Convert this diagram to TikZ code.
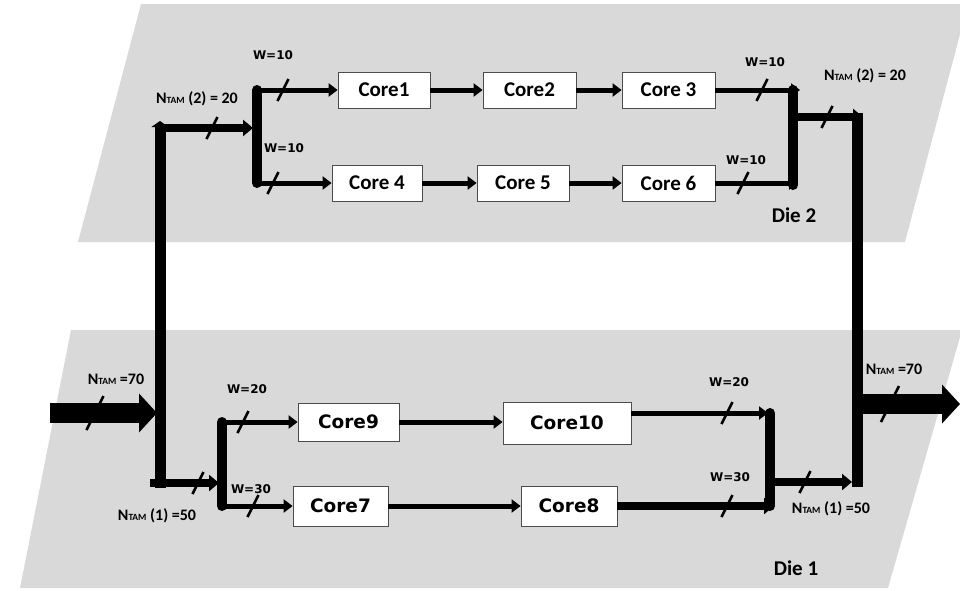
\documentclass[tikz,border=0pt]{standalone}
\usepackage{fontspec}
\setmainfont{Carlito}
\newfontfamily\verd{DejaVu Sans}
\usetikzlibrary{arrows.meta}
\definecolor{diegray}{RGB}{217,217,217}
\newcommand{\ntam}{N{\fontsize{9.5}{10}\selectfont TAM}}

\begin{document}
\begin{tikzpicture}[x=1pt,y=-1pt,
    core/.style={draw=black!70,fill=white,line width=0.8pt,inner sep=0pt,
      minimum height=36pt,font=\fontsize{21}{24}\selectfont\bfseries},
    corev/.style={core,font=\verd\bfseries\fontsize{18.5}{22}\selectfont},
    wire/.style={line width=5pt,-{Triangle[length=9pt,width=13pt]}},
    fat/.style={line width=8pt,-{Triangle[length=10pt,width=16pt]}},
    bar/.style={line width=10pt,line cap=round},
    bus/.style={line width=11pt},
    big/.style={line width=20pt,-{Triangle[length=18pt,width=38pt]}},
    cut/.style={line width=2.5pt},
    wlbl/.style={font=\verd\bfseries\fontsize{12}{12}\selectfont},
    nlbl/.style={font=\bfseries\fontsize{16}{16}\selectfont},
    dielbl/.style={font=\bfseries\fontsize{21}{21}\selectfont}]
  \useasboundingbox (0,0) rectangle (960,590);

  % the two dies
  \fill[diegray] (141,4) -- (968,4) -- (905,242) -- (78,242) -- cycle;
  \fill[diegray] (71,330) -- (962,330) -- (888,588) -- (20,588) -- cycle;

  % cores of die 2
  \node[core,minimum width=92pt] (core1) at (384,90) {Core1};
  \node[core,minimum width=93pt] (core2) at (529.5,90) {Core2};
  \node[core,minimum width=93pt] (core3) at (668.5,90) {Core 3};
  \node[core,minimum width=90pt] (core4) at (377,183) {Core 4};
  \node[core,minimum width=92pt] (core5) at (523,183) {Core 5};
  \node[core,minimum width=93pt] (core6) at (668.5,183) {Core 6};

  % cores of die 1
  \node[corev,minimum width=101pt,minimum height=38pt] (core9) at (348.5,422) {Core9};
  \node[corev,minimum width=128pt,minimum height=42pt] (core10) at (567,423) {Core10};
  \node[corev,minimum width=95pt,minimum height=40pt] (core7) at (340.5,506) {Core7};
  \node[corev,minimum width=96pt,minimum height=40pt] (core8) at (569,506) {Core8};

  % junction points
  \coordinate (inL) at (50,413);
  \coordinate (inR) at (157,413);
  \coordinate (busLtop) at (160,121);
  \coordinate (busLbot) at (160,488);
  \coordinate (nt2Ls) at (155,128);
  \coordinate (nt2Le) at (253,128);
  \coordinate (bar2Lt) at (257,90);
  \coordinate (bar2Lb) at (257,183);
  \coordinate (bar2Rt) at (793,90);
  \coordinate (bar2Rb) at (793,185);
  \coordinate (c3out) at (800,90);
  \coordinate (c6out) at (798,183);
  \coordinate (nt2Rs) at (793,117);
  \coordinate (nt2Re) at (863,117);
  \coordinate (busRt) at (857,113);
  \coordinate (busRb) at (857,487);
  \coordinate (outS) at (857,404);
  \coordinate (outE) at (960,404);
  \coordinate (nt1Ls) at (150,483);
  \coordinate (nt1Le) at (219,483);
  \coordinate (bar1Lt) at (222,422);
  \coordinate (bar1Lb) at (222,506);
  \coordinate (bar1Rt) at (770,413);
  \coordinate (bar1Rb) at (770,506);
  \coordinate (c10out) at (768,413);
  \coordinate (c8out) at (774,506);
  \coordinate (nt1Rs) at (770,482);
  \coordinate (nt1Re) at (852,482);

  % TAM wires
  \draw[big] (inL) -- (inR);
  \draw[bus,-{Triangle[length=6pt,width=17pt]}] (busLbot) -- (busLtop);
  \draw[fat] (nt2Ls) -- (nt2Le);
  \draw[bar] (bar2Lt) -- (bar2Lb);
  \draw[wire] (bar2Lt) -- (bar2Lt -| core1.west);
  \draw[wire] (bar2Lb) -- (bar2Lb -| core4.west);
  \draw[wire] (core1) -- (core2);
  \draw[wire] (core2) -- (core3);
  \draw[wire] (core4) -- (core5);
  \draw[wire] (core5) -- (core6);
  \draw[wire] (core3) -- (c3out);
  \draw[wire] (core6) -- (c6out);
  \draw[bar] (bar2Rt) -- (bar2Rb);
  \draw[bus] (busRt) -- (busRb);
  \draw[fat] (nt2Rs) -- (nt2Re);
  \draw[big] (outS) -- (outE);

  \draw[fat] (nt1Ls) -- (nt1Le);
  \draw[bar] (bar1Lt) -- (bar1Lb);
  \draw[wire] (bar1Lt) -- (bar1Lt -| core9.west);
  \draw[wire] (bar1Lb) -- (bar1Lb -| core7.west);
  \draw[wire] (core9) -- (core9 -| core10.west);
  \draw[wire] (core7) -- (core8);
  \draw[wire] (c10out -| core10.east) -- (c10out);
  \draw[fat] (core8) -- (c8out);
  \draw[bar] (bar1Rt) -- (bar1Rb);
  \draw[fat] (nt1Rs) -- (nt1Re);

  % width marks
  \foreach \x/\y/\h in {283/90/11, 212/128/11, 273/183/11, 762/90/11, 743/183/11,
      827/117/11, 198/483/11, 243/422/11, 253/506/11, 727/413/11, 727/506/11,
      805/482/11, 95/413/17, 890/404/18}
    \draw[cut] (\x+\h/2,\y-\h) -- (\x-\h/2,\y+\h);

  % labels
  \node[wlbl] (w1) at (273,55) {W=10};
  \node[wlbl] (w4) at (284,148) {W=10};
  \node[wlbl] (w3) at (765,62) {W=10};
  \node[wlbl] (w6) at (746,160) {W=10};
  \node[wlbl] (w9) at (247,389) {W=20};
  \node[wlbl] (w7) at (251,489) {W=30};
  \node[wlbl] (w10) at (729,382) {W=20};
  \node[wlbl] (w8) at (730,477) {W=30};
  \node[nlbl] (n2L) at (197,99) {\ntam\ (2) = 20};
  \node[nlbl] (n2R) at (865,76) {\ntam\ (2) = 20};
  \node[nlbl] (n1L) at (157,516) {\ntam\ (1) =50};
  \node[nlbl] (n1R) at (831,509) {\ntam\ (1) =50};
  \node[nlbl] (ninL) at (116,379) {\ntam\ =70};
  \node[nlbl] (noutR) at (894,369) {\ntam\ =70};
  \node[dielbl] (die2) at (794,215) {Die 2};
  \node[dielbl] (die1) at (796,568) {Die 1};
\end{tikzpicture}
\end{document}
